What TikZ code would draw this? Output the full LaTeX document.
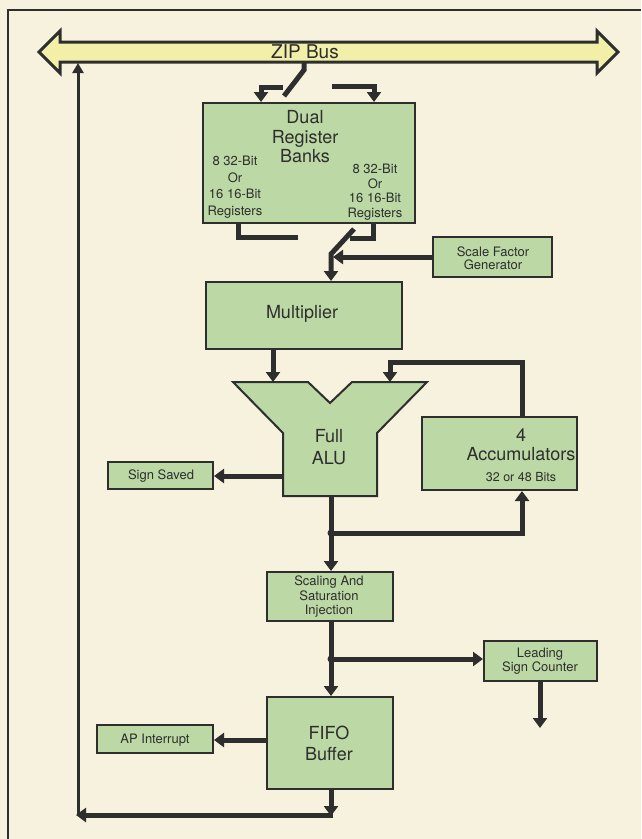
\documentclass[tikz,border=0pt]{standalone}
\usepackage{fontspec}
\setmainfont{TeX Gyre Heros}
\usetikzlibrary{arrows.meta}
\definecolor{bg}{HTML}{F6F2DE}
\definecolor{boxg}{HTML}{BCD8A5}
\definecolor{busy}{HTML}{F2F0A8}
\definecolor{ink}{HTML}{2E2E2E}
\tikzset{
  blk/.style={draw=ink, line width=2pt, fill=boxg, inner sep=0pt},
  big/.style={font=\fontsize{18}{19.5}\selectfont, text=ink, align=center, inner sep=0pt},
  sml/.style={font=\fontsize{13}{14}\selectfont, text=ink, align=center, inner sep=0pt},
  conn/.style={draw=ink, line width=5pt},
  thinconn/.style={draw=ink, line width=3pt},
  arr/.style={-{Triangle[width=14pt,length=10pt]}},
  arrs/.style={-{Triangle[width=11pt,length=10pt]}},
}
\begin{document}
\begin{tikzpicture}[x=1pt,y=-1pt]
\useasboundingbox[fill=bg] (0,0) rectangle (641,839);
% frame
\draw[ink, line width=2pt] (8,839) -- (8,10) -- (641,10);
% bus
\draw[ink, line width=3pt, fill=busy, line join=miter]
  (39,52) -- (60,31) -- (60,42) -- (597,42) -- (597,31) -- (618,52)
  -- (597,73) -- (597,62) -- (60,62) -- (60,73) -- cycle;
\node[big, font=\fontsize{19}{20}\selectfont] (bus) at (305,52) {ZIP Bus};
\coordinate (busin) at (78,63);
% boxes
\node[blk, minimum width=212pt, minimum height=120pt] (reg) at (309,163) {};
\node[big] (regt) at (305,137) {Dual\\Register\\Banks};
\node[sml, font=\fontsize{13}{16.5}\selectfont] (regl) at (235,187) {8 32-Bit\\Or\\16 16-Bit\\Registers};
\node[sml, font=\fontsize{13}{14.5}\selectfont] (regr) at (375,192) {8 32-Bit\\Or\\16 16-Bit\\Registers};
\node[blk, minimum width=119pt, minimum height=40pt] (sfg) at (492.5,257) {};
\node[sml, font=\fontsize{13}{13}\selectfont] (sfgt) at (493,258) {Scale Factor\\Generator};
\node[blk, minimum width=196pt, minimum height=67pt] (mult) at (304,315.5) {};
\node[big] (multt) at (302,314) {Multiplier};
% ALU
\filldraw[ink, line width=2pt, fill=boxg, line join=miter]
  (233,382) -- (308,382) -- (330,403) -- (352,382) -- (427,382) -- (377,433)
  -- (377,496) -- (283,496) -- (283,433) -- cycle;
\node[big, font=\fontsize{18}{22}\selectfont] (alu) at (329,447) {Full\\ALU};
\node[blk, minimum width=155pt, minimum height=73pt] (acc) at (499.5,453.5) {};
\node[big, font=\fontsize{18}{19}\selectfont] (acct) at (521,445) {4\\Accumulators};
\node[sml, font=\fontsize{12.5}{13}\selectfont] (accb) at (521,477) {32 or 48 Bits};
\node[blk, minimum width=105pt, minimum height=27pt] (ss) at (160.5,475.5) {};
\node[sml] (sst) at (161,476) {Sign Saved};
\node[blk, minimum width=126pt, minimum height=49pt] (scal) at (330,596.5) {};
\node[sml, font=\fontsize{13}{14.5}\selectfont] (scalt) at (329,597) {Scaling And\\Saturation\\Injection};
\node[blk, minimum width=113pt, minimum height=40pt] (lsc) at (540.5,661) {};
\node[sml] (lsct) at (540,661) {Leading\\Sign Counter};
\node[blk, minimum width=126pt, minimum height=92pt] (fifo) at (330,743) {};
\node[big, font=\fontsize{18}{21}\selectfont] (fifot) at (329,743) {FIFO\\Buffer};
\node[blk, minimum width=116pt, minimum height=28pt] (ap) at (155,739) {};
\node[sml] (apt) at (155,740) {AP Interrupt};
% connectors
\draw[conn] (304,62) -- (304,70) -- (284,96);
\draw[conn,arr] (283,87) -- (261,87) -- (261,0 |- reg.north);
\draw[conn,arr] (332,86) -- (374,86) -- (374,0 |- reg.north);
\draw[conn] (238,0 |- reg.south) -- (238,237) -- (298,237);
\draw[conn] (373,0 |- reg.south) -- (373,238) -- (350,238);
\draw[conn,arr] (354,229) -- (331,254) -- (331,0 |- mult.north);
\draw[conn,arr] (sfg.west) -- (333,257);
\draw[conn,arr] (273,0 |- mult.south) -- (273,382);
\draw[conn,arr] (522,0 |- acc.north) -- (522,362) -- (390,362) -- (390,382);
\draw[conn,arr] (283,476) -- (ss.east |- 0,476);
\draw[conn,arr] (331,496) -- (331,0 |- scal.north);
\draw[conn,arr] (331,533) -- (522,533) -- (522,0 |- acc.south);
\fill[ink] (331,533) circle (3.5pt);
\draw[conn,arr] (331,0 |- scal.south) -- (331,0 |- fifo.north);
\draw[conn,arr] (331,659) -- (lsc.west |- 0,659);
\fill[ink] (331,659) circle (3.5pt);
\draw[conn,arr] (540,0 |- lsc.south) -- (540,728);
\draw[conn,arr] (fifo.west |- 0,740) -- (ap.east |- 0,740);
\draw[conn,arr] (331,0 |- fifo.south) -- (331,816);
\draw[conn,arr] (333,815) -- (76,815);
\draw[thinconn,arrs] (78,816) -- (busin);
\end{tikzpicture}
\end{document}
